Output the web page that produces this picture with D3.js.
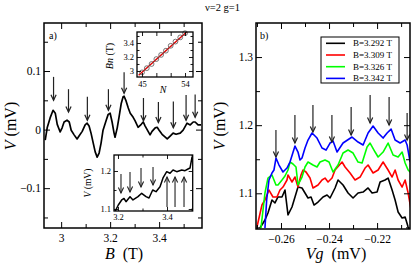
<!DOCTYPE html>
<html><head><meta charset="utf-8">
<script src="https://cdn.jsdelivr.net/npm/d3@7"></script>
<style>
html,body{margin:0;padding:0;background:#fff;}
svg text{font-family:"Liberation Serif","Times New Roman",Tinos,Times,"DejaVu Serif","Noto Serif",FreeSerif,serif;fill:#000;}
</style></head>
<body><svg id="c" width="415" height="265"></svg>
<script>
// ---------- DATA ----------
const titleText = "\u03bd=2 g=1";
// Panel a main trace: [B (T), V (mV)]
const mainTrace = [[2.935,-0.018],[2.943,0.003],[2.955,0.020],[2.967,0.033],[2.976,0.028],[2.984,0.009],[2.996,-0.004],[3.004,0.003],[3.012,0.013],[3.024,0.016],[3.033,0.013],[3.041,-0.001],[3.053,-0.009],[3.065,-0.016],[3.073,-0.011],[3.086,-0.003],[3.098,0.008],[3.106,0.011],[3.114,0.006],[3.122,-0.006],[3.131,-0.023],[3.139,-0.038],[3.147,-0.047],[3.155,-0.040],[3.163,-0.023],[3.171,-0.001],[3.184,0.016],[3.192,0.026],[3.200,0.028],[3.208,0.013],[3.216,-0.006],[3.220,-0.013],[3.229,0.003],[3.237,0.023],[3.245,0.044],[3.253,0.056],[3.257,0.057],[3.265,0.049],[3.274,0.037],[3.282,0.028],[3.294,0.021],[3.302,0.015],[3.314,0.004],[3.327,0.009],[3.335,0.013],[3.343,0.006],[3.355,-0.003],[3.363,-0.009],[3.371,-0.003],[3.384,0.003],[3.392,0.004],[3.400,-0.001],[3.412,-0.008],[3.425,-0.013],[3.433,-0.016],[3.445,-0.011],[3.457,-0.006],[3.469,-0.008],[3.486,-0.006],[3.498,-0.001],[3.514,0.011],[3.527,0.008],[3.539,0.013],[3.547,0.013],[3.559,0.008],[3.571,0.008]];
// Panel a arrows: [B, V top, V tip]
const mainArrows = [[2.969,0.090,0.050],[3.030,0.069,0.030],[3.107,0.056,0.016],[3.193,0.069,0.033],[3.257,0.098,0.062],[3.336,0.054,0.015],[3.397,0.047,0.012],[3.458,0.048,0.003],[3.510,0.059,0.016],[3.547,0.060,0.021]];
const aXMajor = [3, 3.2, 3.4], aXMinor = [3.1, 3.3, 3.5];
const aYMajor = [-0.1, 0, 0.1], aYMinor = [-0.15, -0.05, 0.05, 0.15];
// Upper inset: N vs Bn
const insetN = [45,46,47,48,49,50,51,52,53,54];
const insetBn = [2.98,3.04,3.10,3.17,3.23,3.29,3.36,3.42,3.48,3.54];
const fitLine = [[44.3,2.94],[55.2,3.61]];
const inNTicks = [45,48,51,54], inNLabels = ["45","","","54"];
const inBTicks = [3,3.2,3.4], inBMinor = [3.1,3.3,3.5];
// Lower inset trace: [B, V]
const lowTrace = [[3.1878,1.0929],[3.2012,1.1105],[3.2151,1.1237],[3.2245,1.1276],[3.2327,1.1192],[3.249,1.1324],[3.2612,1.1237],[3.2816,1.1324],[3.2967,1.1413],[3.3143,1.1324],[3.3265,1.1289],[3.3416,1.15],[3.3551,1.1455],[3.3714,1.1587],[3.3837,1.1816],[3.3988,1.1982],[3.4122,1.194],[3.4245,1.2026],[3.4396,1.1982],[3.46,1.2026],[3.4735,1.2008],[3.4857,1.2053],[3.4939,1.2079],[3.502,1.2368]];
const lowDown = [[3.2122,1.1921,1.1421],[3.249,1.1974,1.1447],[3.2939,1.2079,1.1579],[3.3429,1.2105,1.1632]];
const lowUp = [[3.4,1.1053,1.1842],[3.4327,1.1053,1.1842],[3.4694,1.1053,1.1842]];
const lowXMajor=[3.2,3.4], lowXMinor=[3.3,3.5], lowYMajor=[1.1,1.2], lowYMinor=[1.15];
// Panel b series: [Vg (mV), V (mV)]
const legendLabels = ["B=3.292 T","B=3.309 T","B=3.326 T","B=3.342 T"];
const seriesColors = ["#000000","#ff0000","#00ff00","#0000ff"];
const sBlack = [[-0.26875,1.0491],[-0.26667,1.0608],[-0.26542,1.0711],[-0.26375,1.0902],[-0.2625,1.0858],[-0.26125,1.0946],[-0.25958,1.0946],[-0.25833,1.1048],[-0.25708,1.0682],[-0.25542,1.0799],[-0.25417,1.0946],[-0.25292,1.1092],[-0.25125,1.1078],[-0.25,1.1004],[-0.24875,1.0931],[-0.2475,1.0946],[-0.24625,1.0828],[-0.24458,1.0872],[-0.2425,1.0946],[-0.24083,1.0975],[-0.23958,1.0931],[-0.2375,1.1078],[-0.23625,1.1195],[-0.23417,1.1122],[-0.23208,1.1004],[-0.23,1.0931],[-0.22792,1.1004],[-0.22583,1.1019],[-0.22375,1.1078],[-0.22208,1.1004],[-0.22,1.1019],[-0.21875,1.1166],[-0.21667,1.1195],[-0.21542,1.1224],[-0.21375,1.1048],[-0.2125,1.0902],[-0.21125,1.0726],[-0.20958,1.0638],[-0.20833,1.0652],[-0.20708,1.0505],[-0.2060,1.040]];
const sRed = [[-0.27,1.0505],[-0.26792,1.0828],[-0.26667,1.0902],[-0.265,1.1048],[-0.26333,1.0946],[-0.26167,1.0946],[-0.26042,1.1048],[-0.25917,1.1092],[-0.2575,1.1195],[-0.25708,1.1269],[-0.25542,1.1166],[-0.25417,1.1239],[-0.25292,1.1092],[-0.25167,1.1269],[-0.25083,1.1342],[-0.24958,1.1313],[-0.24792,1.1224],[-0.24667,1.1078],[-0.24458,1.1122],[-0.24292,1.1195],[-0.24167,1.1224],[-0.24042,1.1166],[-0.23875,1.1224],[-0.2375,1.1342],[-0.23458,1.1459],[-0.23333,1.1386],[-0.23125,1.1298],[-0.22917,1.1195],[-0.22708,1.1239],[-0.225,1.1371],[-0.22375,1.1415],[-0.22167,1.1298],[-0.21958,1.1342],[-0.2175,1.1459],[-0.21542,1.1342],[-0.21375,1.1239],[-0.2125,1.1342],[-0.21125,1.1195],[-0.20958,1.1092],[-0.20833,1.1195],[-0.20708,1.1004],[-0.20583,1.0755]];
const sGreen = [[-0.26833,1.0491],[-0.26667,1.1004],[-0.26542,1.1224],[-0.26375,1.1269],[-0.26208,1.1122],[-0.26125,1.1122],[-0.25958,1.1195],[-0.25833,1.1254],[-0.25708,1.1342],[-0.25625,1.1459],[-0.255,1.143],[-0.25375,1.1386],[-0.25292,1.1122],[-0.25125,1.1239],[-0.25,1.1386],[-0.24875,1.1459],[-0.24667,1.1415],[-0.245,1.1386],[-0.24375,1.1459],[-0.24167,1.1489],[-0.24,1.1459],[-0.23833,1.1313],[-0.23625,1.1415],[-0.23417,1.1591],[-0.23208,1.1635],[-0.23,1.1591],[-0.22792,1.1459],[-0.22625,1.1445],[-0.22417,1.1679],[-0.22292,1.1738],[-0.22083,1.1606],[-0.21958,1.1533],[-0.2175,1.1606],[-0.21542,1.1738],[-0.21333,1.1562],[-0.21125,1.1533],[-0.20958,1.1606],[-0.20833,1.1445],[-0.20708,1.1342],[-0.20583,1.1298]];
const sBlue = [[-0.26667,1.0491],[-0.26596,1.0902],[-0.2650,1.1195],[-0.26375,1.1298],[-0.26292,1.1342],[-0.26208,1.1518],[-0.26083,1.1415],[-0.25917,1.1313],[-0.2575,1.1371],[-0.25625,1.1459],[-0.25417,1.1694],[-0.25292,1.1606],[-0.25208,1.1489],[-0.25125,1.1518],[-0.25,1.1665],[-0.24875,1.1782],[-0.24708,1.1885],[-0.245,1.1811],[-0.24292,1.1665],[-0.24125,1.1635],[-0.23958,1.1738],[-0.23833,1.1767],[-0.23667,1.1606],[-0.23417,1.1738],[-0.23042,1.1826],[-0.22792,1.1753],[-0.22583,1.1709],[-0.22375,1.1885],[-0.22167,1.1987],[-0.21958,1.1885],[-0.2175,1.1811],[-0.21583,1.1885],[-0.21417,1.1943],[-0.2125,1.1782],[-0.21042,1.1738],[-0.20833,1.1782],[-0.2075,1.1709],[-0.20625,1.1459]];
const bArrows = [[-0.2621,1.1929,1.1533],[-0.2542,1.2149,1.1738],[-0.2467,1.2296,1.1899],[-0.2388,1.2149,1.1753],[-0.2308,1.2266,1.1855],[-0.2229,1.2442,1.2032],[-0.2150,1.2413,1.2002],[-0.2075,1.2178,1.1782]];
const bXMajor=[-0.26,-0.24,-0.22], bXMinor=[-0.27,-0.25,-0.23,-0.21];
const bYMajor=[1.1,1.2,1.3], bYMinor=[1.05,1.15,1.25];

// ---------- DRAW ----------
const svg = d3.select("#c");
const FONT = '"Liberation Serif","Times New Roman",Tinos,Times,"DejaVu Serif","Noto Serif",FreeSerif,serif';
const fmt = d => d3.format("")(+d.toFixed(3));

function frameAxes(g, x, y, o){
  const [x0,x1]=x.range(), [y1,y0]=y.range();
  const mk = (axis, tx, ty, vals, size, labels, fs, pad) => {
    const a = axis.tickValues(vals).tickSizeInner(size).tickSizeOuter(0).tickPadding(pad||3)
      .tickFormat(labels ? labels : "");
    const gg = g.append("g").attr("transform",`translate(${tx},${ty})`).call(a);
    gg.select(".domain").remove();
    gg.attr("font-family",null);
    gg.selectAll("line").attr("stroke","#000").attr("stroke-width",o.tw||1);
    gg.selectAll("text").attr("font-size",fs||11).attr("fill","#000").style("font-family",FONT);
    return gg;
  };
  const M=o.major||6, m=o.minor||3.5;
  mk(d3.axisBottom(x), 0, y1, o.xMaj, -M, o.xLab, o.fs, o.xpad);
  mk(d3.axisBottom(x), 0, y1, o.xMin, -m);
  mk(d3.axisTop(x), 0, y0, o.xMaj, -M);
  mk(d3.axisTop(x), 0, y0, o.xMin, -m);
  mk(d3.axisLeft(y), x0, 0, o.yMaj, -M, o.yLab, o.fs, o.ypad);
  mk(d3.axisLeft(y), x0, 0, o.yMin, -m);
  mk(d3.axisRight(y), x1, 0, o.yMaj, -M);
  mk(d3.axisRight(y), x1, 0, o.yMin, -m);
  g.append("rect").attr("x",x0).attr("y",y0).attr("width",x1-x0).attr("height",y1-y0)
    .attr("fill","none").attr("stroke","#000").attr("stroke-width",o.fw||1.5);
}
function arrow(g, x, yA, yB, w){
  const dir = yB>yA ? 1 : -1;
  g.append("line").attr("x1",x).attr("x2",x).attr("y1",yA).attr("y2",yB)
    .attr("stroke","#222").attr("stroke-width",w||1.1);
  g.append("path").attr("d",`M${x-2.6},${yB-dir*5.5}L${x},${yB}L${x+2.6},${yB-dir*5.5}`)
    .attr("fill","none").attr("stroke","#222").attr("stroke-width",w||1.1);
}
function txt(sel){ return sel.style("font-family",FONT); }

// Title
txt(svg.append("text").attr("x",205).attr("y",11).attr("font-size",10.5).text(titleText));

// ---- Panel a ----
const xA = d3.scaleLinear().domain([2.93,3.575]).range([44,202]);
const yA = d3.scaleLinear().domain([-0.168,0.182]).range([228,23]);
const gA = svg.append("g");
svg.append("clipPath").attr("id","clipA").append("rect").attr("x",44).attr("y",23).attr("width",158).attr("height",205);
gA.append("path").datum(mainTrace).attr("clip-path","url(#clipA)")
  .attr("d",d3.line().x(d=>xA(d[0])).y(d=>yA(d[1])))
  .attr("fill","none").attr("stroke","#000").attr("stroke-width",1.7).attr("stroke-linejoin","round");
mainArrows.forEach(a=>arrow(gA, xA(a[0]), yA(a[1]), yA(a[2]), 1.2));
frameAxes(gA, xA, yA, {xMaj:aXMajor, xMin:aXMinor, yMaj:aYMajor, yMin:aYMinor,
  xLab:fmt, yLab:fmt, fs:11.5, xpad:6, ypad:3, major:6, minor:4});
txt(svg.append("text").attr("x",49).attr("y",39).attr("font-size",10).text("a)"));
// axis titles
const tA = txt(svg.append("text").attr("x",124).attr("y",259).attr("text-anchor","middle").attr("font-size",16));
tA.append("tspan").attr("font-style","italic").text("B");
tA.append("tspan").text("\u2002(T)");
const yTA = txt(svg.append("text").attr("transform","translate(16,126) rotate(-90)").attr("text-anchor","middle").attr("font-size",16));
yTA.append("tspan").attr("font-style","italic").text("V");
yTA.append("tspan").text(" (mV)");

// Upper inset
const xI = d3.scaleLinear().domain([43.95,55.67]).range([137,193]);
const yI = d3.scaleLinear().domain([2.914,3.557]).range([77,32]);
const gI = svg.append("g");
gI.append("rect").attr("x",137).attr("y",32).attr("width",56).attr("height",45).attr("fill","#fff");
svg.append("clipPath").attr("id","clipI").append("rect").attr("x",137).attr("y",32).attr("width",56).attr("height",45);
gI.append("path").datum(fitLine).attr("clip-path","url(#clipI)")
  .attr("d",d3.line().x(d=>xI(d[0])).y(d=>yI(d[1]))).attr("stroke","#e00000").attr("stroke-width",1.4).attr("fill","none");
gI.selectAll("circle").data(insetN).join("circle")
  .attr("cx",d=>xI(d)).attr("cy",(d,i)=>yI(insetBn[i])).attr("r",2.4)
  .attr("fill","none").attr("stroke","#555").attr("stroke-width",0.8);
frameAxes(gI, xI, yI, {xMaj:inNTicks, xMin:[], yMaj:inBTicks, yMin:inBMinor,
  xLab:(d,i)=>inNLabels[i], yLab:fmt, fs:8.5, xpad:4, ypad:3, major:4, minor:2.5, fw:1.3, tw:0.9});
const bnT = txt(svg.append("text").attr("transform","translate(113,56) rotate(-90)").attr("text-anchor","middle").attr("font-size",10));
bnT.append("tspan").attr("font-style","italic").text("Bn");
bnT.append("tspan").text(" (T)");
txt(svg.append("text").attr("x",163).attr("y",93).attr("text-anchor","middle").attr("font-size",10).attr("font-style","italic").text("N"));

// Lower inset
const xL = d3.scaleLinear().domain([3.1837,3.5048]).range([114,192.7]);
const yL = d3.scaleLinear().domain([1.0947,1.2421]).range([211,155]);
const gL = svg.append("g");
gL.append("rect").attr("x",114).attr("y",155).attr("width",78.7).attr("height",56).attr("fill","#fff");
svg.append("clipPath").attr("id","clipL").append("rect").attr("x",114).attr("y",155).attr("width",78.7).attr("height",56);
gL.append("path").datum(lowTrace).attr("clip-path","url(#clipL)")
  .attr("d",d3.line().x(d=>xL(d[0])).y(d=>yL(d[1])))
  .attr("fill","none").attr("stroke","#000").attr("stroke-width",1.5).attr("stroke-linejoin","round");
lowDown.forEach(a=>arrow(gL, xL(a[0]), yL(a[1]), yL(a[2]), 1.1));
lowUp.forEach(a=>arrow(gL, xL(a[0]), yL(a[1]), yL(a[2]), 1.1));
frameAxes(gL, xL, yL, {xMaj:lowXMajor, xMin:lowXMinor, yMaj:lowYMajor, yMin:lowYMinor,
  xLab:fmt, yLab:fmt, fs:8.5, xpad:3, ypad:3, major:4, minor:2.5, fw:1.3, tw:0.9});
const lvT = txt(svg.append("text").attr("transform","translate(91,183) rotate(-90)").attr("text-anchor","middle").attr("font-size",9.5));
lvT.append("tspan").attr("font-style","italic").text("V");
lvT.append("tspan").text(" (mV)");

// ---- Panel b ----
const xB = d3.scaleLinear().domain([-0.2704,-0.2063]).range([256,410]);
const yB = d3.scaleLinear().domain([1.0476,1.35]).range([229,23]);
const gB = svg.append("g");
svg.append("clipPath").attr("id","clipB").append("rect").attr("x",256).attr("y",23).attr("width",154).attr("height",206);
const lineB = d3.line().x(d=>xB(d[0])).y(d=>yB(d[1]));
[sBlack,sRed,sGreen,sBlue].forEach((s,i)=>{
  gB.append("path").datum(s).attr("clip-path","url(#clipB)").attr("d",lineB)
    .attr("fill","none").attr("stroke",seriesColors[i]).attr("stroke-width",1.6).attr("stroke-linejoin","round");
});
bArrows.forEach(a=>arrow(gB, xB(a[0]), yB(a[1]), yB(a[2]), 1.2));
frameAxes(gB, xB, yB, {xMaj:bXMajor, xMin:bXMinor, yMaj:bYMajor, yMin:bYMinor,
  xLab:fmt, yLab:fmt, fs:11.5, xpad:6, ypad:3, major:6, minor:4});
txt(svg.append("text").attr("x",260).attr("y",39).attr("font-size",10).text("b)"));
// legend
const lg = svg.append("g");
lg.append("rect").attr("x",321).attr("y",37).attr("width",78).attr("height",46).attr("fill","#fff").attr("stroke","#000").attr("stroke-width",1);
legendLabels.forEach((t,i)=>{
  const yy = 43.3 + i*11.7;
  lg.append("line").attr("x1",326).attr("x2",345).attr("y1",yy).attr("y2",yy).attr("stroke",seriesColors[i]).attr("stroke-width",1.6);
  txt(lg.append("text").attr("x",353).attr("y",yy+3).attr("font-size",9).text(t));
});
const tB = txt(svg.append("text").attr("x",336).attr("y",259).attr("text-anchor","middle").attr("font-size",16));
tB.append("tspan").attr("font-style","italic").text("Vg");
tB.append("tspan").text("\u2002(mV)");
const yTB = txt(svg.append("text").attr("transform","translate(225,126) rotate(-90)").attr("text-anchor","middle").attr("font-size",16));
yTB.append("tspan").attr("font-style","italic").text("V");
yTB.append("tspan").text(" (mV)");
</script></body></html>
